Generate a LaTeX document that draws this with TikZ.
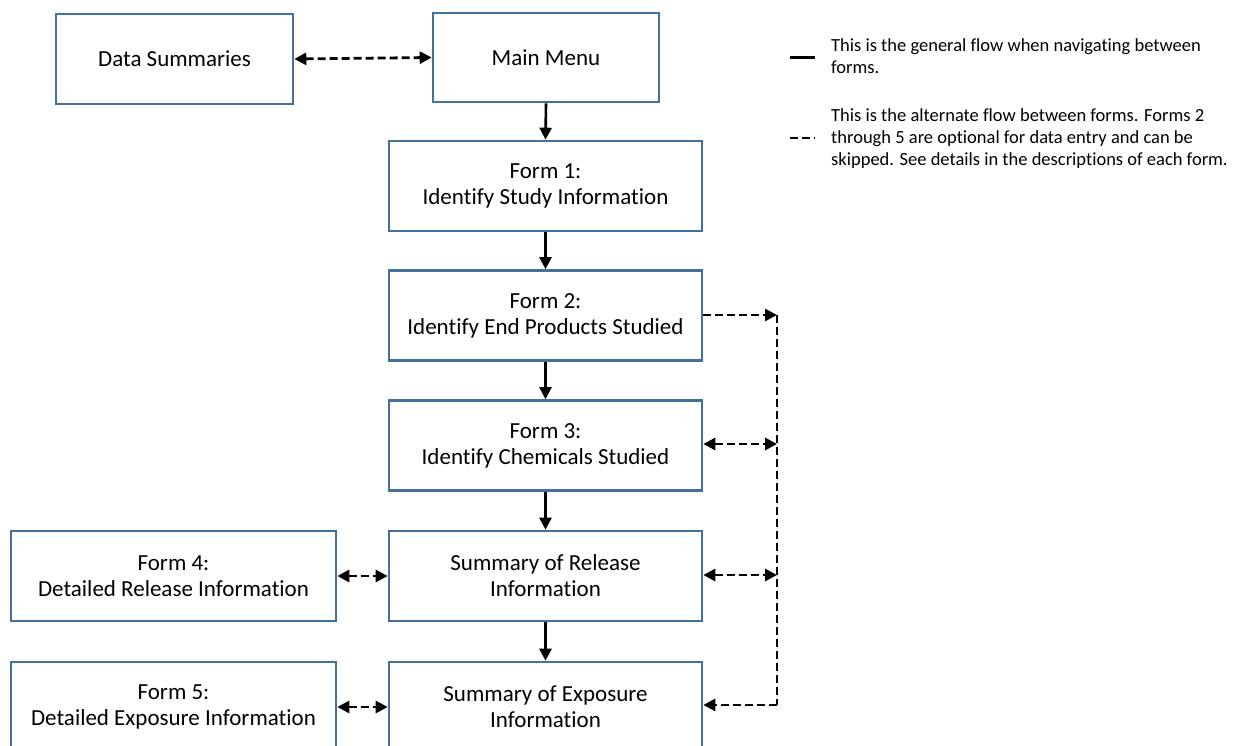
\documentclass[tikz,border=0pt]{standalone}
\usepackage{fontspec}
\setmainfont{Carlito}[Ligatures=NoCommon]
\usetikzlibrary{arrows.meta}
\definecolor{boxblue}{RGB}{65,113,156}
\begin{document}
\begin{tikzpicture}[x=1pt,y=-1pt,
  box/.style={draw=boxblue,line width=2.6pt,fill=white,minimum height=90pt,align=center,
    font=\fontsize{23}{26}\selectfont,inner sep=0pt},
  formbox/.style={box,minimum width=313pt},
  sidebox/.style={box,minimum width=325pt},
  flow/.style={line width=2.6pt,-{Triangle[length=12pt,width=12pt]}},
  alt/.style={line width=2.8pt,dash pattern=on 8pt off 4pt,{Triangle[length=12pt,width=12pt]}-{Triangle[length=12pt,width=12pt]}},
  altone/.style={line width=2.8pt,dash pattern=on 8pt off 4pt,-{Triangle[length=12pt,width=12pt]}},
  altline/.style={line width=2.8pt,dash pattern=on 8pt off 4pt},
  legtext/.style={align=left,anchor=base west,inner sep=0pt,font=\fontsize{18.5}{22}\selectfont}
]
\useasboundingbox (0,0) rectangle (1243,746);
\clip (0,0) rectangle (1243,746);
\node[box,minimum width=237pt] (ds) at (174.5,59) {Data Summaries};
\node[box,minimum width=226pt,minimum height=89pt] (mm) at (546,57.5) {Main Menu};
\node[formbox] (f1) at (545.5,186) {Form 1:\\Identify Study Information};
\node[formbox] (f2) at (545.5,315.5) {Form 2:\\Identify End Products Studied};
\node[formbox] (f3) at (545.5,445.5) {Form 3:\\Identify Chemicals Studied};
\node[formbox] (rel) at (545.5,576) {Summary of Release\\Information};
\node[formbox] (exp) at (545.5,707) {Summary of Exposure\\Information};
\node[sidebox] (f4) at (173.5,576) {Form 4:\\Detailed Release Information};
\node[sidebox] (f5) at (173.5,707) {Form 5:\\Detailed Exposure Information};

\draw[flow] (mm.south) -- (f1.north);
\draw[flow] (f1.south) -- (f2.north);
\draw[flow] (f2.south) -- (f3.north);
\draw[flow] (f3.south) -- (rel.north);
\draw[flow] (rel.south) -- (exp.north);
\draw[alt] (ds.east) -- (mm.west);
\draw[alt] (f4.east) -- (rel.west);
\draw[alt] (f5.east) -- (exp.west);

\coordinate (c2) at (777,315);
\coordinate (c3) at (777,444);
\coordinate (c4) at (777,575);
\coordinate (c5) at (777,705);
\draw[altone] (f2.east |- c2) -- (c2);
\draw[altline] (c2) -- (c5);
\draw[alt] (f3.east |- c3) -- (c3);
\draw[alt] (rel.east |- c4) -- (c4);
\draw[altone] (c5) -- (exp.east |- c5);

\coordinate (l1a) at (790,58);
\coordinate (l1b) at (815,58);
\draw[line width=3pt] (l1a) -- (l1b);
\node[legtext] (lt1) at (831,74) {This is the general flow when navigating between\\forms.};
\coordinate (l2a) at (790,138);
\coordinate (l2b) at (815,138);
\draw[altline] (l2a) -- (l2b);
\node[legtext] (lt2) at (831,166) {This is the alternate flow between forms. Forms 2\\through 5 are optional for data entry and can be\\skipped. See details in the descriptions of each form.};
\end{tikzpicture}
\end{document}
